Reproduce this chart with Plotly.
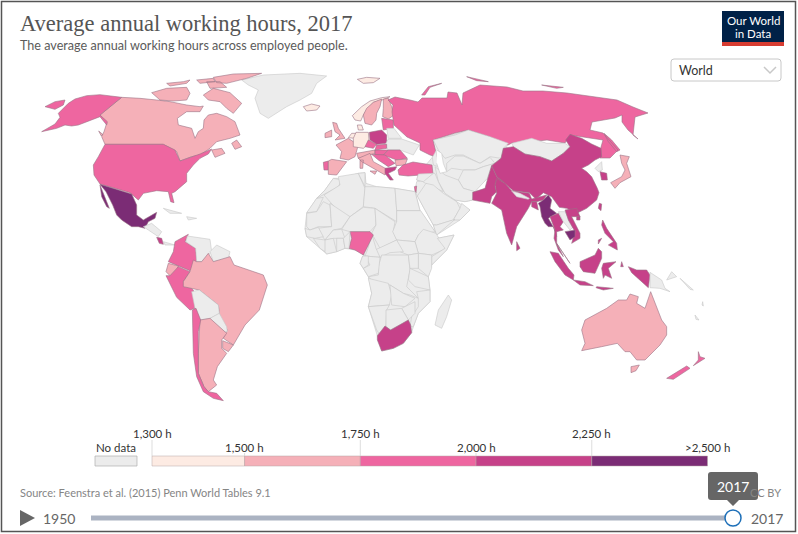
import plotly.graph_objects as go

# the cdn topojson can't be loaded offline, so the outlines are traced from the picture
# each list is in 3x crop pixels, crop() brings it back to chart pixels
def crop(x0, y0, pts):
    return [(x0 + x / 3, y0 + y / 3) for x, y in pts]

def z1(pts): return crop(0, 0, pts)
def z2(pts): return crop(400, 0, pts)
def sa(pts): return crop(130, 210, pts)
def af(pts): return crop(300, 170, pts)
def oc(pts): return crop(530, 220, pts)
def eu(pts): return crop(320, 95, pts)

bin_edges = [1300, 1500, 1750, 2000, 2250, 2500]
bin_colors = ["#fdebe3", "#f5b0b8", "#ee66a0", "#c64189", "#7b2c75"]
bin_labels = ["1,300 h", "1,500 h", "1,750 h", "2,000 h", "2,250 h", ">2,500 h"]
no_data_color = "#ececec"

outlines = {
    # land under the no data countries, closes the small gaps between traced borders
    "Africa": [af([(100,25),(125,25),(175,10),(195,8),(198,40),(230,50),(285,55),(345,65),(360,122),(405,185),(412,205),(462,195),(440,240),(395,285),(385,320),(390,360),(390,395),(355,430),(340,470),(335,488),(310,520),(280,535),(245,543),(232,497),(205,410),(215,370),(205,320),(190,295),(180,280),(188,258),(195,255),(165,240),(135,235),(110,245),(80,252),(60,235),(20,200),(15,175),(20,130),(50,85),(75,60)])],
    "Central Asia": [z2([(100,420),(205,390),(325,430),(303,475),(275,497),(262,535),(218,577),(218,600),(195,605),(165,600),(135,580),(85,555),(50,540),(55,522),(97,472)])],
    "Arabia": [af([(352,78),(345,62),(350,35),(400,25),(430,60),(470,95),(510,120),(480,150),(410,195),(400,165),(375,120)])],
    "Greenland": [z1([(725,240),(790,225),(900,220),(980,228),(950,250),(935,280),(900,300),(860,320),(805,355),(780,340),(765,295),(775,270),(745,255)])],
    "Canada": [
        z1([(365,292),(420,295),(470,300),(510,305),(560,315),(600,320),(610,318),(600,335),(560,335),(532,355),(535,375),(575,385),(585,415),(595,395),(610,385),(612,360),(625,345),(650,340),(680,350),(705,365),(720,405),(690,415),(650,425),(630,445),(600,465),(575,470),(540,483),(530,455),(490,433),(315,433),(305,410),(312,395),(320,370),(300,345)]),
        z1([(455,278),(500,265),(560,262),(570,280),(560,300),(520,303),(480,300)]),
        z1([(500,250),(550,245),(570,240),(560,250),(510,258)]),
        z1([(590,240),(640,235),(645,245),(600,250)]),
        z1([(640,232),(700,222),(785,220),(740,235),(680,250),(650,248)]),
        z1([(610,285),(640,265),(690,278),(725,310),(700,340),(680,325),(660,305),(625,300)]),
        z1([(620,245),(660,245),(680,262),(630,265)]),
        z1([(695,430),(710,420),(725,440),(705,448)]),
        z1([(635,450),(665,445),(675,460),(645,472)]),
        z1([(296,393),(308,403),(304,408)]),
    ],
    "United States": [
        z1([(315,433),(490,433),(525,450),(540,483),(600,462),(635,447),(625,462),(600,475),(580,495),(560,520),(560,545),(525,575),(515,580),(522,608),(512,605),(505,575),(470,572),(430,580),(415,600),(390,578),(370,572),(345,565),(300,552),(282,525),(280,495),(295,470)]),
        z1([(365,292),(300,284),(260,287),(225,297),(205,310),(175,340),(180,352),(165,372),(125,395),(170,385),(195,375),(215,378),(235,375),(270,362),(300,350),(320,375),(322,365),(300,345)]),
        z1([(135,320),(165,305),(195,300),(190,315),(165,328)]),
    ],
    "Mexico": [
        z1([(300,553),(345,567),(372,575),(395,582),(410,615),(410,645),(430,660),(470,637),(465,655),(445,665),(435,685),(415,680),(395,680),(365,660),(350,645),(338,615),(318,575)]),
        z1([(300,555),(312,585),(328,625),(320,620),(305,590)]),
    ],
    "Central America": [sa([(40,50),(65,40),(95,65),(85,80),(55,60)]), sa([(100,95),(135,105),(105,105)])],
    "Costa Rica": [sa([(80,82),(95,85),(100,103),(88,100)])],
    "Cuba": [z1([(490,625),(545,640),(510,640)])],
    "Hispaniola": [z1([(560,650),(590,655),(565,660)])],
    "Colombia": [sa([(175,73),(165,95),(197,115),(200,155),(180,182),(145,168),(115,155),(130,125),(135,95)])],
    "Venezuela": [sa([(172,78),(240,88),(245,125),(215,155),(200,155),(197,115),(168,95)])],
    "Guianas": [sa([(240,125),(260,105),(300,125),(295,145),(250,155)])],
    "Ecuador": [sa([(115,160),(145,168),(140,190),(120,197),(108,185)])],
    "Peru": [sa([(108,197),(120,197),(145,170),(180,185),(160,215),(190,240),(195,295),(180,300),(140,262)])],
    "Brazil": [sa([(190,150),(200,155),(215,155),(235,130),(250,155),(300,140),(312,165),(400,195),(412,225),(388,300),(345,345),(310,405),(280,385),(292,360),(270,325),(265,285),(208,240),(160,230),(160,215),(180,185)])],
    "Bolivia": [sa([(185,245),(208,240),(265,285),(268,310),(240,325),(210,330),(195,295)])],
    "Paraguay": [sa([(240,325),(268,310),(290,350),(292,365),(270,365)])],
    "Argentina": [sa([(210,330),(240,325),(290,370),(275,390),(275,415),(290,430),(262,470),(250,510),(260,525),(235,545),(222,530),(205,490),(205,430)])],
    "Uruguay": [sa([(278,392),(310,405),(295,425),(278,415)])],
    "Chile": [sa([(187,300),(198,295),(212,330),(205,365),(205,490),(222,530),(235,545),(260,550),(280,572),(250,565),(220,545),(200,500),(190,430)])],
    "Iceland": [z1([(910,320),(935,312),(960,318),(950,330),(920,333)])],
    "Norway": [eu([(97,62),(125,35),(150,18),(185,8),(210,5),(190,14),(160,22),(140,45),(130,60),(122,78),(105,75)]), z1([(1072,238),(1100,232),(1140,235),(1120,248),(1090,250)])],
    "Sweden": [eu([(130,60),(140,40),(160,22),(185,12),(180,35),(170,55),(168,75),(155,90),(135,85)])],
    "Finland": [eu([(190,12),(205,10),(215,35),(222,60),(205,72),(188,65),(190,40)])],
    "Portugal": [eu([(10,202),(25,198),(25,225),(12,225)])],
    "Spain": [eu([(25,198),(35,193),(80,200),(60,225),(50,240),(25,238)])],
    "France": [eu([(48,150),(85,130),(115,150),(105,185),(85,195),(60,190),(65,170)])],
    "United Kingdom": [eu([(38,82),(50,85),(55,100),(75,130),(45,135),(60,120),(45,110)])],
    "Ireland": [eu([(15,115),(35,105),(35,125),(15,128)])],
    "Benelux": [eu([(85,128),(95,115),(110,115),(105,130)])],
    "Germany": [eu([(108,112),(145,112),(148,145),(130,160),(100,155),(100,130)])],
    "Denmark": [eu([(112,90),(125,90),(130,105),(115,105)])],
    "Poland": [eu([(148,112),(185,105),(200,120),(200,145),(170,148),(150,135)])],
    "Czechia": [eu([(145,135),(170,148),(160,160),(135,155)])],
    "Baltics": [eu([(185,70),(220,75),(220,100),(190,105)])],
    "Belarus": [eu([(200,100),(222,100),(245,130),(205,130)])],
    "Ukraine": [eu([(205,132),(245,132),(298,150),(280,180),(240,165),(205,165),(195,150)])],
    "Austria": [eu([(110,175),(165,165),(165,175),(115,190)])],
    "Italy": [eu([(115,190),(150,175),(160,200),(205,225),(195,240),(170,225),(125,200)]), eu([(120,195),(130,195),(128,220),(120,220)]), eu([(150,228),(170,228),(165,238)])],
    "Hungary": [eu([(165,165),(205,165),(190,180),(165,180)])],
    "Slovakia": [eu([(170,150),(200,148),(200,160),(165,165)])],
    "Romania": [eu([(205,165),(240,165),(262,190),(230,195),(190,180)])],
    "Bulgaria": [eu([(225,195),(262,192),(255,210),(228,212)])],
    "Serbia": [eu([(155,178),(195,180),(225,205),(205,215),(175,195)])],
    "Greece": [eu([(195,220),(230,215),(225,225),(205,235),(220,255),(210,255),(195,235)])],
    "Russia": [
        [(388,100),(395,97),(410,100),(418,102),(422,98),(437,98),(447,98),(448,92),(457,93),(462,105),(463,93),(480,85),(507,87),(523,91),(543,91),(567,93),(597,97),(617,100),(633,107),(648,113),(635,117),(633,135),(638,139),(628,130),(622,122),(622,115),(615,118),(592,122),(590,130),(603,133),(618,150),(610,158),(600,158),(601,147),(603,140),(570,135),(565,143),(547,140),(528,142),(512,143),(508,145),(490,137),(468,130),(455,133),(433,140),(435,150),(437,157),(430,155),(420,150),(420,143),(407,137),(394,125),(392,112),(393,105)],
        z2([(65,285),(85,260),(125,250),(90,262),(75,285)]),
        z2([(200,230),(240,238),(265,245),(230,242)]),
        z2([(425,255),(490,262),(470,265)]),
        z2([(612,400),(635,420),(660,450),(650,455),(625,425)]),
    ],
    "Turkey": [[(398,170),(403,165),(413,162),(432,165),(433,174),(420,175),(408,176),(399,175)]],
    "Caucasus": [z2([(97,472),(108,452),(115,500),(100,495)])],
    "Kazakhstan": [z2([(100,420),(165,405),(205,390),(270,410),(325,430),(310,445),(303,475),(270,470),(240,490),(190,465),(165,465),(135,475),(115,450)])],
    "Uzbekistan": [z2([(140,490),(165,468),(190,468),(240,490),(270,472),(285,490),(250,500),(225,510),(190,510),(155,505),(140,515)])],
    "Afghanistan": [z2([(190,510),(225,510),(250,500),(285,490),(275,497),(262,535),(225,575),(190,565),(175,540)])],
    "Mongolia": [z2([(335,430),(395,415),(440,430),(495,430),(510,440),(490,460),(455,483),(420,470),(375,462),(340,440)])],
    "Iran": [z2([(105,500),(135,525),(175,540),(190,565),(225,575),(218,600),(195,605),(165,600),(135,580),(115,545)])],
    "Iraq": [z2([(100,520),(60,540),(85,555),(130,575),(115,545),(105,520)])],
    "Syria": [z2([(55,522),(100,520),(70,545),(50,540)])],
    "Saudi Arabia": [af([(378,40),(400,45),(430,70),(470,95),(480,115),(460,150),(410,165),(400,165),(375,120),(352,78)])],
    "Oman": [af([(485,100),(510,120),(480,150),(460,150),(480,115)])],
    "Yemen": [af([(400,165),(410,165),(465,148),(410,195)])],
    "Israel": [af([(343,50),(350,48),(348,68),(345,62)])],
    "China": [z2([(510,403),(545,415),(575,432),(603,445),(605,470),(585,480),(565,495),(545,505),(560,515),(575,530),(592,565),(597,578),(590,600),(560,625),(530,640),(500,625),(478,622),(455,590),(430,578),(408,598),(388,578),(340,572),(308,545),(290,530),(275,497),(303,475),(310,445),(340,440),(375,462),(420,470),(455,483),(490,460),(510,440),(497,420)]), z2([(530,650),(540,648),(540,660),(530,660)])],
    "Pakistan": [z2([(218,577),(255,565),(262,540),(275,497),(290,530),(310,545),(290,540),(285,560),(290,575),(275,590),(270,610),(240,605),(218,600)])],
    "India": [z2([(290,535),(315,550),(335,572),(388,580),(395,597),(420,590),(440,585),(430,600),(410,605),(395,605),(385,625),(350,680),(335,735),(320,700),(310,655),(305,630),(275,610),(290,580),(285,555)])],
    "Nepal": [z2([(335,573),(360,580),(388,595),(385,598),(350,590)])],
    "Bangladesh": [z2([(395,605),(410,605),(415,630),(405,625),(395,620)])],
    "Sri Lanka": [z2([(350,725),(360,745),(350,752)])],
    "Myanmar": [z2([(430,600),(445,585),(455,600),(450,625),(470,640),(455,650),(445,655),(465,690),(470,710),(460,680),(445,680),(435,670),(425,650),(420,620),(415,610)])],
    "Thailand": [z2([(450,650),(475,640),(490,665),(480,680),(490,690),(470,695),(470,730),(490,770),(475,750),(462,715),(465,690)])],
    "Laos": [z2([(475,635),(495,635),(520,680),(510,690),(490,665)])],
    "Vietnam": [z2([(495,630),(530,625),(540,650),(515,650),(540,700),(540,715),(515,730),(525,695),(505,660)])],
    "Cambodia": [z2([(495,695),(525,690),(525,710),(510,720)])],
    "North Korea": [z2([(585,505),(605,485),(607,510),(595,515)])],
    "South Korea": [z2([(600,515),(620,520),(622,540),(605,540)])],
    "Japan": [z2([(660,465),(688,470),(680,490),(693,530),(660,548),(645,565),(632,548),(665,530),(675,510),(665,490)])],
    "Taiwan": [z2([(598,610),(605,612),(603,632),(595,625)])],
    "Western Sahara": [af([(20,128),(50,85),(70,82),(50,125)])],
    "Morocco": [af([(50,85),(75,60),(100,25),(125,30),(115,50),(72,72)])],
    "Algeria": [af([(115,20),(175,10),(195,55),(190,110),(150,140),(125,135),(72,75),(120,45)])],
    "Tunisia": [af([(175,10),(195,8),(195,50)])],
    "Libya": [af([(195,50),(230,50),(285,55),(290,120),(290,155),(225,115),(190,110)])],
    "Egypt": [af([(285,55),(345,65),(360,122),(290,122)])],
    "Mauritania": [af([(20,130),(50,125),(70,95),(90,105),(95,170),(55,170),(30,180),(20,170)])],
    "Mali": [af([(90,100),(150,140),(125,175),(100,180),(75,210),(50,175),(95,170)])],
    "Niger": [af([(150,140),(190,112),(225,115),(228,165),(210,185),(150,185),(125,178)])],
    "Chad": [af([(225,115),(285,155),(280,185),(290,210),(240,235),(215,190),(228,165)])],
    "Sudan": [af([(290,122),(362,122),(405,185),(355,195),(345,215),(290,210),(278,185),(290,155)])],
    "Ethiopia": [af([(370,178),(408,190),(420,210),(445,225),(430,240),(395,255),(355,250),(345,215),(355,195)])],
    "Somalia": [af([(412,205),(462,195),(440,240),(395,285),(395,260),(435,235)])],
    "South Sudan": [af([(290,210),(345,215),(355,250),(325,255),(300,245)])],
    "CAR": [af([(225,240),(290,210),(310,245),(270,248),(240,262)])],
    "Cameroon": [af([(205,232),(215,190),(228,235),(240,262),(195,258)])],
    "Nigeria": [af([(150,185),(210,185),(220,195),(205,225),(190,255),(165,240),(147,235),(155,205)])],
    "Senegal": [af([(15,175),(30,180),(55,172),(70,200),(45,205),(20,200)])],
    "Guinea": [af([(40,205),(75,210),(85,215),(75,245),(60,235)])],
    "Burkina Faso": [af([(75,210),(100,180),(125,178),(135,205),(100,205)])],
    "Ivory Coast": [af([(75,210),(100,205),(110,245),(80,252),(75,245)])],
    "Ghana": [af([(110,205),(130,205),(135,235),(110,245)])],
    "Benin": [af([(130,205),(150,185),(147,235),(135,235)])],
    "DR Congo": [af([(245,255),(325,255),(330,300),(320,350),(355,385),(330,375),(310,370),(270,345),(215,330),(205,320),(235,315),(235,290)])],
    "Congo": [af([(195,258),(240,262),(235,310),(205,320),(190,295),(210,285)])],
    "Gabon": [af([(188,258),(205,258),(205,285),(190,295),(180,280)])],
    "Angola": [af([(205,325),(265,340),(275,375),(268,405),(205,410),(215,370)])],
    "Zambia": [af([(270,345),(310,370),(345,385),(315,410),(275,405)])],
    "Tanzania": [af([(330,295),(385,320),(390,360),(345,350),(325,330)])],
    "Kenya": [af([(355,250),(395,255),(395,295),(385,320),(355,295)])],
    "Uganda": [af([(325,255),(355,250),(355,295),(330,295)])],
    "Mozambique": [af([(350,365),(390,360),(390,395),(355,430),(340,470),(330,470),(335,440),(355,410),(355,385)])],
    "Zimbabwe": [af([(305,415),(345,395),(345,430),(325,450)])],
    "Namibia": [af([(205,410),(268,405),(260,420),(258,465),(240,495),(230,480)])],
    "Botswana": [af([(258,420),(305,415),(325,450),(300,465),(270,480),(258,470)])],
    "South Africa": [af([(232,497),(255,468),(272,480),(300,465),(325,450),(332,465),(335,488),(310,520),(280,535),(245,543),(232,510)])],
    "Madagascar": [af([(445,375),(455,390),(440,440),(425,475),(405,465),(415,420)])],
    "Indonesia": [
        oc([(60,95),(85,100),(115,145),(132,165),(130,180),(105,165),(75,125)]),
        oc([(130,180),(165,185),(190,197),(150,195)]),
        oc([(150,125),(195,105),(205,85),(215,95),(215,115),(195,160),(160,155),(150,140)]),
        oc([(220,130),(258,125),(235,145),(245,175),(225,165),(220,175),(215,145)]),
        oc([(295,140),(320,150),(350,150),(360,165),(355,203),(330,180),(305,158)]),
        oc([(200,200),(250,205),(220,210),(198,203)]),
        oc([(275,125),(280,140),(272,140)]),
        oc([(80,70),(110,115),(120,130),(95,90)]),
    ],
    "Philippines": [oc([(218,0),(230,25),(260,70),(262,90),(235,75),(250,65),(225,40),(215,15)]), oc([(205,60),(215,55),(205,72)])],
    "Papua New Guinea": [oc([(360,157),(395,180),(405,205),(420,215),(390,205),(360,203)]), oc([(425,155),(440,170),(410,180)])],
    "Pacific islands": [oc([(450,175),(490,210),(480,208)]), oc([(495,285),(507,300),(498,298)]), oc([(518,245),(520,258),(516,255)])],
    "Australia": [oc([(165,300),(230,265),(265,240),(290,240),(300,222),(325,230),(320,250),(345,265),(362,215),(375,250),(395,300),(410,320),(410,345),(390,375),(345,420),(320,420),(300,395),(285,395),(262,370),(215,380),(155,392),(165,370),(155,330)]), oc([(303,440),(328,435),(318,452),(303,458)])],
    "New Zealand": [oc([(410,475),(470,438),(480,445),(430,478)]), oc([(505,395),(510,410),(525,415),(490,437),(505,420)])],
}

caspian = z2([(110,450),(125,460),(130,490),(140,515),(120,520),(110,490)])

# hours read from the bin colour of each country, no entry means no data
hours = {
    "Canada": 1700, "United States": 1780, "Mexico": 2255, "Costa Rica": 2180,
    "Colombia": 1900, "Ecuador": 1650, "Peru": 1950, "Brazil": 1710,
    "Argentina": 1690, "Uruguay": 1620, "Chile": 1950,
    "Iceland": 1470, "Norway": 1420, "Sweden": 1620, "Finland": 1560,
    "Portugal": 1850, "Spain": 1690, "France": 1510, "United Kingdom": 1670,
    "Ireland": 1740, "Benelux": 1480, "Germany": 1360, "Denmark": 1400,
    "Poland": 2030, "Czechia": 1780, "Baltics": 1850, "Austria": 1610,
    "Italy": 1720, "Hungary": 1760, "Slovakia": 1760, "Romania": 1790,
    "Bulgaria": 1640, "Serbia": 1880, "Greece": 2020, "Russia": 1980,
    "Turkey": 1830, "Israel": 1910, "China": 2170, "Pakistan": 2210,
    "India": 2160, "Bangladesh": 2230, "Sri Lanka": 2100, "Myanmar": 2400,
    "Thailand": 2180, "Vietnam": 2130, "Cambodia": 2450, "South Korea": 2020,
    "Japan": 1710, "Taiwan": 2030, "Nigeria": 1900, "South Africa": 2200,
    "Indonesia": 2020, "Philippines": 2100, "Australia": 1720, "New Zealand": 1750,
}

def bin_color(value):
    if value is None:
        return no_data_color
    for i, edge in enumerate(bin_edges[1:]):
        if value < edge:
            return bin_colors[i]
    return bin_colors[-1]

fig = go.Figure()

for name, polys in outlines.items():
    xs, ys = [], []
    for poly in polys:
        closed = poly + [poly[0]]
        xs += [p[0] for p in closed] + [None]
        ys += [p[1] for p in closed] + [None]
    value = hours.get(name)
    fig.add_trace(go.Scatter(
        x=xs, y=ys, mode="lines", fill="toself", fillcolor=bin_color(value),
        line=dict(color="#c8c8c8" if value is None else "#9a7486", width=0.6),
        name=name, hoverinfo="name", showlegend=False))

fig.add_trace(go.Scatter(
    x=[p[0] for p in caspian], y=[p[1] for p in caspian], mode="lines", fill="toself", fillcolor="white",
    line=dict(color="#c8c8c8", width=0.6), hoverinfo="skip", showlegend=False))

shapes = []
annotations = []

def add_text(x, y, text, size=12, color="#5b5b5b", anchor="left", family="Lato"):
    annotations.append(dict(x=x, y=y, text=text, showarrow=False, xanchor=anchor, yanchor="middle",
                            font=dict(size=size, color=color, family=family)))

# legend, bins are positioned on a linear hours scale
def legend_x(value):
    return 152 + (value - 1300) * (707.5 - 152) / (2500 - 1300)

for i in range(len(bin_colors)):
    shapes.append(dict(type="rect", x0=legend_x(bin_edges[i]), x1=legend_x(bin_edges[i + 1]), y0=456, y1=466,
                       fillcolor=bin_colors[i], line=dict(color="#b5a5a5", width=0.5)))
for i, edge in enumerate(bin_edges):
    top = 440 if i % 2 == 0 else 453
    if i < 5:
        shapes.append(dict(type="line", x0=legend_x(edge), x1=legend_x(edge), y0=top, y1=456,
                           line=dict(color="#cfcfcf", width=0.7)))
    level = 433 if i % 2 == 0 else 447
    if i == 5:
        level = 447
    add_text(legend_x(edge), level, bin_labels[i], size=11.5, color="#333333", anchor="center")
shapes.append(dict(type="rect", x0=95, x1=137, y0=456, y1=466, fillcolor=no_data_color,
                   line=dict(color="#b0b0b0", width=0.7)))
add_text(116, 447, "No data", size=11.5, color="#333333", anchor="center")

# header
add_text(18, 23, "Average annual working hours, 2017", size=22.5, color="#555555", family="Liberation Serif")
add_text(18, 45, "The average annual working hours across employed people.", size=12.6, color="#5b5b5b")

# logo
shapes.append(dict(type="rect", x0=722, x1=784, y0=11, y1=42, fillcolor="#002147", line_width=0))
shapes.append(dict(type="rect", x0=722, x1=784, y0=42, y1=46, fillcolor="#d73c31", line_width=0))
add_text(753, 20.5, "Our World", size=11.5, color="#ffffff", anchor="center")
add_text(753, 33.5, "in Data", size=11.5, color="#ffffff", anchor="center")

# region dropdown
shapes.append(dict(type="path", path="M 674 59 H 778 Q 781 59 781 62 V 78 Q 781 81 778 81 H 674 Q 671 81 671 78 V 62 Q 671 59 674 59 Z",
                   fillcolor="#ffffff", line=dict(color="#c8c8c8", width=1)))
shapes.append(dict(type="path", path="M 764 67 L 770 73 L 776 67", line=dict(color="#c8c8c8", width=1.5)))
add_text(677, 70, "World", size=12.5, color="#333333")

# footer
add_text(18, 492, "Source: Feenstra et al. (2015) Penn World Tables 9.1", size=11, color="#858585")
add_text(783, 492, "CC BY", size=11, color="#858585", anchor="right")

# timeline
shapes.append(dict(type="path", path="M 20 510 L 35 518 L 20 526 Z", fillcolor="#666666", line_width=0))
add_text(41, 518, "1950", size=14, color="#666666")
add_text(749, 518, "2017", size=14, color="#666666")
shapes.append(dict(type="rect", x0=91, x1=733, y0=515.5, y1=520.5, fillcolor="#abb3c2", line_width=0))
shapes.append(dict(type="circle", x0=725, x1=741, y0=510, y1=526, fillcolor="#ffffff", line=dict(color="#1d6fb8", width=1.5)))
shapes.append(dict(type="path", path="M 711 472 H 755 Q 758 472 758 475 V 497 Q 758 500 755 500 H 739 L 733 506 L 727 500 H 711 Q 708 500 708 497 V 475 Q 708 472 711 472 Z",
                   fillcolor="#666666", line_width=0))
add_text(733, 486, "2017", size=14, color="#ffffff", anchor="center")

# page frame
shapes.append(dict(type="rect", x0=1.5, x1=795.5, y0=1.5, y1=531.5, line=dict(color="#555555", width=1.5)))

fig.update_layout(
    width=798, height=534, margin=dict(l=0, r=0, t=0, b=0),
    plot_bgcolor="white", paper_bgcolor="white",
    xaxis=dict(range=[0, 798], visible=False, fixedrange=True),
    yaxis=dict(range=[534, 0], visible=False, fixedrange=True),
    shapes=shapes, annotations=annotations)

fig.write_html("out.html", config={"displayModeBar": False}, post_script="document.body.style.margin = '0';")
